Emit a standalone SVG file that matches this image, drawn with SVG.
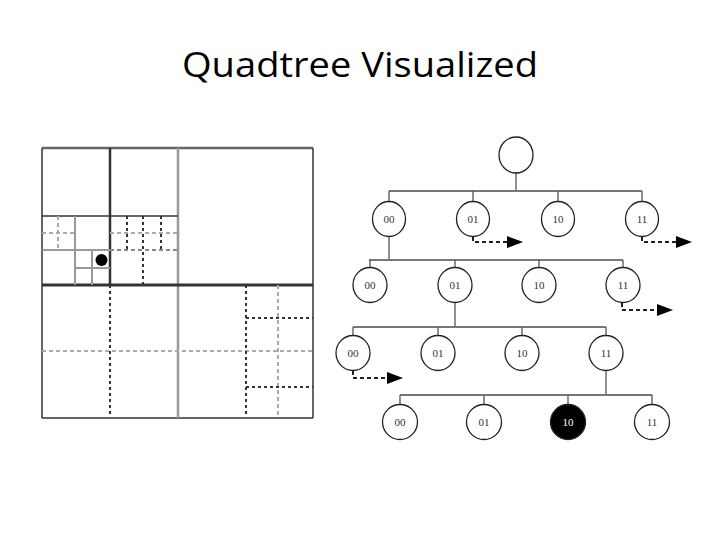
<svg xmlns="http://www.w3.org/2000/svg" width="720" height="540" viewBox="0 0 720 540">
<style>
.title{font-family:"Open Sans","Liberation Sans",Arial,sans-serif;font-size:34px;fill:#000}
.lbl{font-family:"Liberation Serif","Times New Roman",serif;font-size:11px;fill:#333;text-anchor:middle}
.node{fill:#fff;stroke:#222;stroke-width:1.3}
.bar{stroke:#777;stroke-width:2;fill:none}
.drop{stroke:#555;stroke-width:1.3;fill:none}
.arr{stroke:#222;stroke-width:2;stroke-dasharray:4 3;fill:none}
.dk{stroke:#333;fill:none}
.gy{stroke:#999;fill:none}
.dd{stroke:#333;stroke-width:2;stroke-dasharray:3 3;fill:none}
.gd{stroke:#aaa;stroke-width:2;stroke-dasharray:4 3;fill:none}
</style>
<defs>
<marker id="ah" markerWidth="8" markerHeight="6" refX="0" refY="3" orient="auto" markerUnits="strokeWidth">
<path d="M0,0 L8,3 L0,6 Z" fill="#000"/>
</marker>
</defs>
<rect width="720" height="540" fill="#fff"/>
<text class="title" x="182" y="77" textLength="356" lengthAdjust="spacingAndGlyphs">Quadtree Visualized</text>

<g id="grid">
<line class="gy" x1="42" y1="148" x2="313" y2="148" stroke-width="2.5" style="stroke:#666"/>
<line class="dk" x1="42" y1="148" x2="42" y2="418" stroke-width="1.5"/>
<line class="dk" x1="313" y1="148" x2="313" y2="418" stroke-width="1.5"/>
<line class="dk" x1="42" y1="418" x2="313" y2="418" stroke-width="1.5"/>
<line class="gy" x1="178" y1="148" x2="178" y2="418" stroke-width="2.5"/>
<line class="dk" x1="42" y1="285" x2="313" y2="285" stroke-width="3"/>
<line class="dk" x1="110" y1="148" x2="110" y2="285" stroke-width="2.5"/>
<line class="dk" x1="42" y1="216" x2="178" y2="216" stroke-width="1.5"/>
<line class="gy" x1="75" y1="216" x2="75" y2="285" stroke-width="2"/>
<line class="gy" x1="42" y1="250" x2="110" y2="250" stroke-width="2"/>
<line class="gy" x1="92" y1="250" x2="92" y2="285" stroke-width="2"/>
<line class="gy" x1="75" y1="268" x2="110" y2="268" stroke-width="2"/>
<line class="gd" x1="58" y1="216" x2="58" y2="250"/>
<line class="gd" x1="42" y1="233" x2="75" y2="233"/>
<line class="gd" x1="110" y1="233" x2="178" y2="233"/>
<line class="gd" x1="110" y1="250" x2="178" y2="250" style="stroke:#888"/>
<line class="dd" x1="127" y1="216" x2="127" y2="250"/>
<line class="dd" x1="143" y1="216" x2="143" y2="285"/>
<line class="dd" x1="161" y1="216" x2="161" y2="250"/>
<circle cx="101.5" cy="260" r="6" fill="#000"/>
<line class="dd" x1="110" y1="285" x2="110" y2="416"/>
<line class="gd" x1="42" y1="351" x2="313" y2="351"/>
<line class="dd" x1="246" y1="285" x2="246" y2="416"/>
<line class="gd" x1="278" y1="285" x2="278" y2="418"/>
<line class="dd" x1="246" y1="318" x2="313" y2="318"/>
<line class="dd" x1="246" y1="387" x2="313" y2="387"/>
</g>

<g id="connectors">
<path class="drop" d="M516,172 V191"/>
<path class="bar" d="M389,191 H642"/>
<path class="drop" d="M389,191 V202 M473,191 V202 M558,191 V202 M642,191 V202"/>
<path class="drop" d="M389,236 V260"/>
<path class="bar" d="M369,260 H623"/>
<path class="drop" d="M370,260 V268 M455,260 V268 M539,260 V268 M623,260 V268"/>
<path class="drop" d="M455,302 V327"/>
<path class="bar" d="M353,327 H606"/>
<path class="drop" d="M353,327 V336 M438,327 V336 M522,327 V336 M606,327 V336"/>
<path class="drop" d="M606,370 V395"/>
<path class="bar" d="M400,395 H652"/>
<path class="drop" d="M400,395 V404 M484,395 V404 M568,395 V404 M652,395 V404"/>
<path class="arr" d="M473,237 V242 H507" marker-end="url(#ah)"/>
<path class="arr" d="M642,237 V242 H676" marker-end="url(#ah)"/>
<path class="arr" d="M622,303 V310 H657" marker-end="url(#ah)"/>
<path class="arr" d="M353,371 V378 H387" marker-end="url(#ah)"/>
</g>

<g id="root"><ellipse class="node" cx="516" cy="155" rx="17" ry="18"/></g>
<g id="n1-00"><ellipse class="node" cx="389" cy="219" rx="16.5" ry="17.5"/><text class="lbl" x="389" y="223">00</text></g>
<g id="n1-01"><ellipse class="node" cx="473" cy="219" rx="16.5" ry="17.5"/><text class="lbl" x="473" y="223">01</text></g>
<g id="n1-10"><ellipse class="node" cx="558" cy="219" rx="16.5" ry="17.5"/><text class="lbl" x="558" y="223">10</text></g>
<g id="n1-11"><ellipse class="node" cx="642" cy="219" rx="16.5" ry="17.5"/><text class="lbl" x="642" y="223">11</text></g>

<g id="n2-00"><ellipse class="node" cx="370" cy="285" rx="17" ry="17.5"/><text class="lbl" x="370" y="289">00</text></g>
<g id="n2-01"><ellipse class="node" cx="455" cy="285" rx="17" ry="17.5"/><text class="lbl" x="455" y="289">01</text></g>
<g id="n2-10"><ellipse class="node" cx="539" cy="285" rx="17" ry="17.5"/><text class="lbl" x="539" y="289">10</text></g>
<g id="n2-11"><ellipse class="node" cx="623" cy="285" rx="17" ry="17.5"/><text class="lbl" x="623" y="289">11</text></g>

<g id="n3-00"><ellipse class="node" cx="353" cy="353" rx="17" ry="17.5"/><text class="lbl" x="353" y="357">00</text></g>
<g id="n3-01"><ellipse class="node" cx="438" cy="353" rx="17" ry="17.5"/><text class="lbl" x="438" y="357">01</text></g>
<g id="n3-10"><ellipse class="node" cx="522" cy="353" rx="17" ry="17.5"/><text class="lbl" x="522" y="357">10</text></g>
<g id="n3-11"><ellipse class="node" cx="606" cy="353" rx="17" ry="17.5"/><text class="lbl" x="606" y="357">11</text></g>

<g id="n4-00"><ellipse class="node" cx="400" cy="422" rx="17.5" ry="17.5"/><text class="lbl" x="400" y="426">00</text></g>
<g id="n4-01"><ellipse class="node" cx="484" cy="422" rx="17.5" ry="17.5"/><text class="lbl" x="484" y="426">01</text></g>
<g id="n4-10"><ellipse class="node" cx="568" cy="422" rx="17.5" ry="17.5" style="fill:#000"/><text class="lbl" x="568" y="426" style="fill:#fff">10</text></g>
<g id="n4-11"><ellipse class="node" cx="652" cy="422" rx="17.5" ry="17.5"/><text class="lbl" x="652" y="426">11</text></g>
</svg>
